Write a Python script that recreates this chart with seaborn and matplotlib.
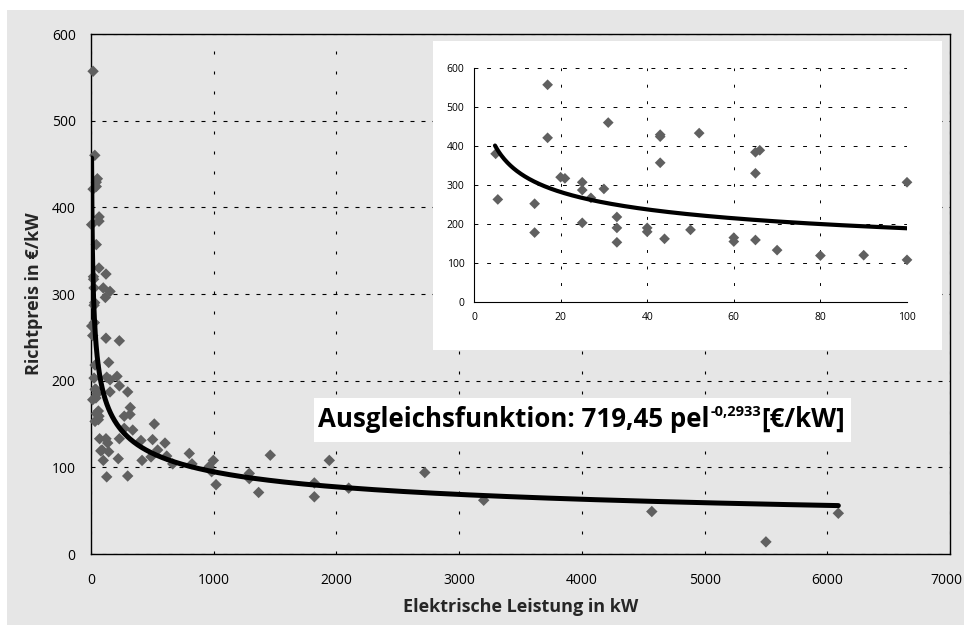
import numpy as np
import pandas as pd
import matplotlib
matplotlib.use("Agg")
import matplotlib.pyplot as plt
import matplotlib.transforms as mtransforms
from matplotlib.patches import Rectangle
import seaborn as sns

# ---- data ----
# small plants (<= 100 kW), shown in both panels
small_kw = [5, 5.5, 14, 14, 17, 17, 20, 21, 25, 25, 25, 27, 30, 31, 33, 33, 33,
            40, 40, 43, 43, 43, 44, 50, 52, 60, 60, 65, 66, 65, 65, 70, 80, 90,
            100, 100]
small_price = [380, 263, 252, 178, 557, 421, 320, 317, 307, 287, 203, 267, 290,
               460, 218, 190, 153, 190, 180, 429, 424, 357, 162, 185, 433, 165,
               155, 384, 389, 330, 159, 133, 119, 120, 307, 108]
# larger plants (> 100 kW), main panel only
large_kw = [117, 122, 155, 122, 231, 144, 128, 212, 155, 231, 299, 155, 320, 271,
            318, 516, 340, 271, 122, 136, 231, 407, 502, 603, 144, 543, 222, 416,
            489, 666, 801, 823, 128, 299, 617, 964, 997, 983, 1019, 1290, 1290,
            1366, 1461, 1820, 1820, 1942, 2100, 2720, 3200, 4570, 5500, 6090]
large_price = [296, 323, 303, 249, 246, 221, 204, 205, 201, 194, 187, 187, 169,
               159, 161, 150, 143, 145, 133, 128, 133, 131, 132, 128, 118, 120,
               110, 108, 112, 104, 116, 104, 89, 90, 113, 101, 108, 95, 80, 93,
               87, 71, 114, 82, 66, 108, 76, 94, 62, 49, 14, 47]

main_fit = (719.45, -0.2933, 4.7, 6090)
inset_fit = (594.0, -0.2486, 4.85, 100)

x_ticks_main = [0, 1000, 2000, 3000, 4000, 5000, 6000, 7000]
y_ticks = [0, 100, 200, 300, 400, 500, 600]
x_ticks_inset = [0, 20, 40, 60, 80, 100]

x_label = "Elektrische Leistung in kW"
y_label = "Richtpreis in €/kW"
fit_main = "Ausgleichsfunktion: 719,45 pel"
fit_exp = "-0,2933"
fit_unit = "[€/kW]"

# ---- styling ----
sns.set_theme(style="white")
plt.rcParams["font.family"] = ["Open Sans", "DejaVu Sans"]

W, H = 964, 625
fig = plt.figure(figsize=(W / 100, H / 100), dpi=100)
fig.patch.set_facecolor("white")
GRAY = "#e6e6e6"
MARK = "#606060"

# gray panel
fig.patches.append(Rectangle((7 / W, 0), (W - 7) / W, (H - 10) / H,
                             transform=fig.transFigure, facecolor=GRAY,
                             edgecolor="none", zorder=-5))

def px_axes(l, t, r, b):
    return [l / W, (H - b) / H, (r - l) / W, (b - t) / H]

ax = fig.add_axes(px_axes(91, 34, 950, 554))
ax.set_facecolor(GRAY)
ax.set_zorder(0)

all_kw = small_kw + large_kw
all_price = small_price + large_price
df = pd.DataFrame({"kw": all_kw, "price": all_price})
sns.scatterplot(data=df, x="kw", y="price", ax=ax, marker="D", s=34,
                color=MARK, edgecolor="none", linewidth=0, zorder=3, clip_on=False)

a, b, x0, x1 = main_fit
xf = np.geomspace(x0, x1, 600)
fit_df = pd.DataFrame({"kw": xf, "price": a * xf ** b})
sns.lineplot(data=fit_df, x="kw", y="price", ax=ax, color="black", lw=3.6,
             sort=False, estimator=None, zorder=4)

ax.set_xlim(0, 7000)
ax.set_ylim(0, 600)
ax.set_xticks(x_ticks_main)
ax.set_yticks(y_ticks)
ax.set_xticklabels([str(v) for v in x_ticks_main])
ax.set_yticklabels([str(v) for v in y_ticks])
for s in ax.spines.values():
    s.set_visible(True)
    s.set_color("black")
    s.set_linewidth(1.0)
ax.tick_params(axis="both", direction="out", length=5, width=1, color="black",
               labelsize=10, labelcolor="black", pad=6)
ax.tick_params(axis="x", pad=9)
# keep the last x tick label inside the figure
last = ax.get_xticklabels()[-1]
last.set_transform(last.get_transform() +
                   mtransforms.ScaledTranslation(-4 / 100, 0, fig.dpi_scale_trans))
ax.xaxis.grid(True, color="black", lw=0.8, linestyle=(0, (2.7, 15.3)))
ax.yaxis.grid(True, color="black", lw=0.8, linestyle=(0, (3.6, 6.3)))
ax.set_axisbelow(True)
ax.set_xlabel(x_label, fontsize=13, fontweight="bold")
ax.set_ylabel(y_label, fontsize=13, fontweight="bold")
ax.xaxis.set_label_coords(0.5, (554 - 607) / 520)
ax.xaxis.label.set_va("center")
ax.yaxis.set_label_coords((34 - 91) / 859, 0.5)
ax.yaxis.label.set_va("center")

# annotation box with formula
ax.add_patch(Rectangle(((314 - 91) / 859, (554 - 442) / 520),
                       (851 - 314) / 859, 44 / 520, transform=ax.transAxes,
                       facecolor="white", edgecolor="none", zorder=5,
                       clip_on=False))
base_y = (554 - 427) / 520
t1 = ax.text((318 - 91) / 859, base_y, fit_main, transform=ax.transAxes,
             ha="left", va="baseline", fontsize=18.6, fontweight="bold",
             color="black", zorder=6)
t2 = ax.annotate(fit_exp, xy=(1, base_y), xycoords=(t1, "axes fraction"),
                 xytext=(0.5, 8), textcoords="offset points", ha="left",
                 va="baseline", fontsize=10.5, fontweight="bold", color="black",
                 zorder=6)
t3 = ax.annotate(fit_unit, xy=(1, base_y), xycoords=(t2, "axes fraction"),
                 xytext=(0.5, 0), textcoords="offset points", ha="left",
                 va="baseline", fontsize=18.6, fontweight="bold", color="black",
                 zorder=6)

# inset white background
fig.patches.append(Rectangle((433 / W, (H - 350) / H), 509 / W, 309 / H,
                             transform=fig.transFigure, facecolor="white",
                             edgecolor="none", zorder=1))

axi = fig.add_axes(px_axes(474, 68, 907, 302))
axi.set_zorder(2)
axi.set_facecolor("none")
dfs = pd.DataFrame({"kw": small_kw, "price": small_price})
sns.scatterplot(data=dfs, x="kw", y="price", ax=axi, marker="D", s=30,
                color=MARK, edgecolor="none", linewidth=0, zorder=3, clip_on=False)
a, b, x0, x1 = inset_fit
xi = np.linspace(x0, x1, 400)
fit_i = pd.DataFrame({"kw": xi, "price": a * xi ** b})
sns.lineplot(data=fit_i, x="kw", y="price", ax=axi, color="black", lw=3.0,
             sort=False, estimator=None, zorder=4)
axi.set_xlim(0, 100)
axi.set_ylim(0, 600)
axi.set_xticks(x_ticks_inset)
axi.set_yticks(y_ticks)
axi.set_xticklabels([str(v) for v in x_ticks_inset])
axi.set_yticklabels([str(v) for v in y_ticks])
for side in ["top", "right"]:
    axi.spines[side].set_visible(False)
for side in ["left", "bottom"]:
    axi.spines[side].set_visible(True)
    axi.spines[side].set_color("black")
    axi.spines[side].set_linewidth(0.8)
axi.tick_params(axis="both", direction="out", length=3, width=0.8, color="black",
                labelsize=7.5, labelcolor="black", pad=4)
axi.xaxis.grid(True, color="black", lw=0.7, linestyle=(0, (3.0, 14.0)))
axi.yaxis.grid(True, color="black", lw=0.7, linestyle=(0, (4.0, 9.0)))
axi.set_axisbelow(True)
axi.set_xlabel("")
axi.set_ylabel("")

fig.savefig("out.png", dpi=100)
